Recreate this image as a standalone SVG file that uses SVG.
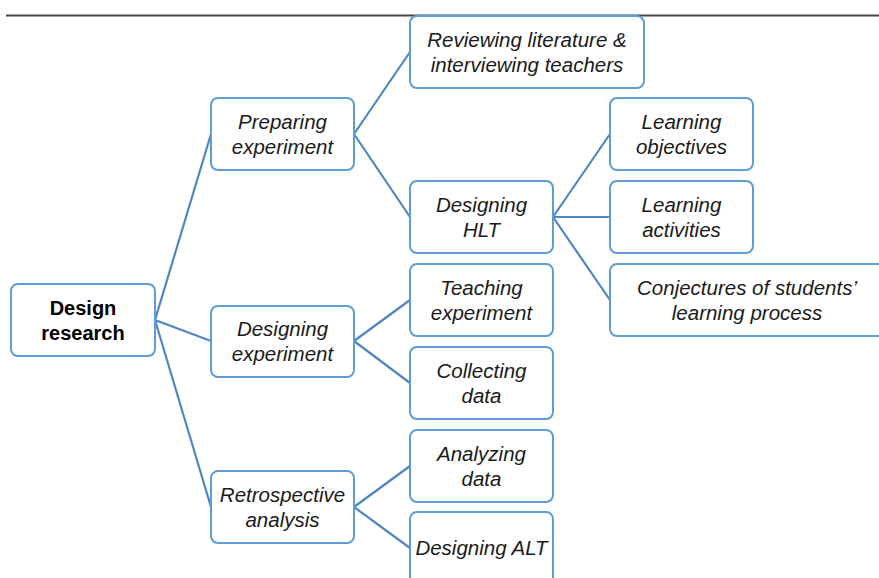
<svg xmlns="http://www.w3.org/2000/svg" width="879" height="578" viewBox="0 0 879 578">
  <style>
    .box { fill: #ffffff; stroke: #5f9dd6; stroke-width: 2; }
    .link { fill: none; stroke: #4f86c2; stroke-width: 2.2; }
    .lbl { font-family: "Liberation Sans", "Open Sans", sans-serif; font-size: 20.5px; font-style: italic; fill: #1a1a1a; text-anchor: middle; }
    .root { font-family: "Liberation Sans", "Open Sans", sans-serif; font-size: 20px; font-weight: bold; fill: #000000; text-anchor: middle; }
  </style>
  <rect width="879" height="578" fill="#ffffff"/>
  <line x1="6" y1="15.5" x2="879" y2="15.5" stroke="#444444" stroke-width="2"/>

  <g id="connectors">
    <path class="link" d="M155 320 L211 134 M155 320 L211 341 M155 320 L211 507"/>
    <path class="link" d="M354 134 L410 52 M354 134 L410 217"/>
    <path class="link" d="M553 217 L610 134 M553 217 L610 217 M553 217 L610 300"/>
    <path class="link" d="M354 341 L410 300 M354 341 L410 383"/>
    <path class="link" d="M354 507 L410 466 M354 507 L410 548"/>
  </g>

  <g id="design-research">
    <rect class="box" x="11" y="284" width="144" height="72" rx="7"/>
    <text class="root" x="83" y="315">Design</text>
    <text class="root" x="83" y="340">research</text>
  </g>

  <g id="preparing-experiment">
    <rect class="box" x="211" y="98" width="143" height="72" rx="7"/>
    <text class="lbl" x="282.5" y="129">Preparing</text>
    <text class="lbl" x="282.5" y="154">experiment</text>
  </g>

  <g id="designing-experiment">
    <rect class="box" x="211" y="306" width="143" height="71" rx="7"/>
    <text class="lbl" x="282.5" y="336">Designing</text>
    <text class="lbl" x="282.5" y="361">experiment</text>
  </g>

  <g id="retrospective-analysis">
    <rect class="box" x="211" y="471" width="143" height="72" rx="7"/>
    <text class="lbl" x="282.5" y="502">Retrospective</text>
    <text class="lbl" x="282.5" y="527">analysis</text>
  </g>

  <g id="reviewing-literature">
    <rect class="box" x="410" y="16" width="234" height="72" rx="7"/>
    <text class="lbl" x="527" y="47">Reviewing literature &amp;</text>
    <text class="lbl" x="527" y="72">interviewing teachers</text>
  </g>

  <g id="designing-hlt">
    <rect class="box" x="410" y="181" width="143" height="72" rx="7"/>
    <text class="lbl" x="481.5" y="212">Designing</text>
    <text class="lbl" x="481.5" y="237">HLT</text>
  </g>

  <g id="learning-objectives">
    <rect class="box" x="610" y="98" width="143" height="72" rx="7"/>
    <text class="lbl" x="681.5" y="129">Learning</text>
    <text class="lbl" x="681.5" y="154">objectives</text>
  </g>

  <g id="learning-activities">
    <rect class="box" x="610" y="181" width="143" height="72" rx="7"/>
    <text class="lbl" x="681.5" y="212">Learning</text>
    <text class="lbl" x="681.5" y="237">activities</text>
  </g>

  <g id="conjectures">
    <rect class="box" x="610" y="264" width="290" height="72" rx="7"/>
    <text class="lbl" x="747" y="295">Conjectures of students’</text>
    <text class="lbl" x="747" y="320">learning process</text>
  </g>

  <g id="teaching-experiment">
    <rect class="box" x="410" y="264" width="143" height="72" rx="7"/>
    <text class="lbl" x="481.5" y="295">Teaching</text>
    <text class="lbl" x="481.5" y="320">experiment</text>
  </g>

  <g id="collecting-data">
    <rect class="box" x="410" y="347" width="143" height="72" rx="7"/>
    <text class="lbl" x="481.5" y="378">Collecting</text>
    <text class="lbl" x="481.5" y="403">data</text>
  </g>

  <g id="analyzing-data">
    <rect class="box" x="410" y="430" width="143" height="72" rx="7"/>
    <text class="lbl" x="481.5" y="461">Analyzing</text>
    <text class="lbl" x="481.5" y="486">data</text>
  </g>

  <g id="designing-alt">
    <rect class="box" x="410" y="512" width="143" height="90" rx="7"/>
    <text class="lbl" x="481.5" y="555">Designing ALT</text>
  </g>
</svg>
